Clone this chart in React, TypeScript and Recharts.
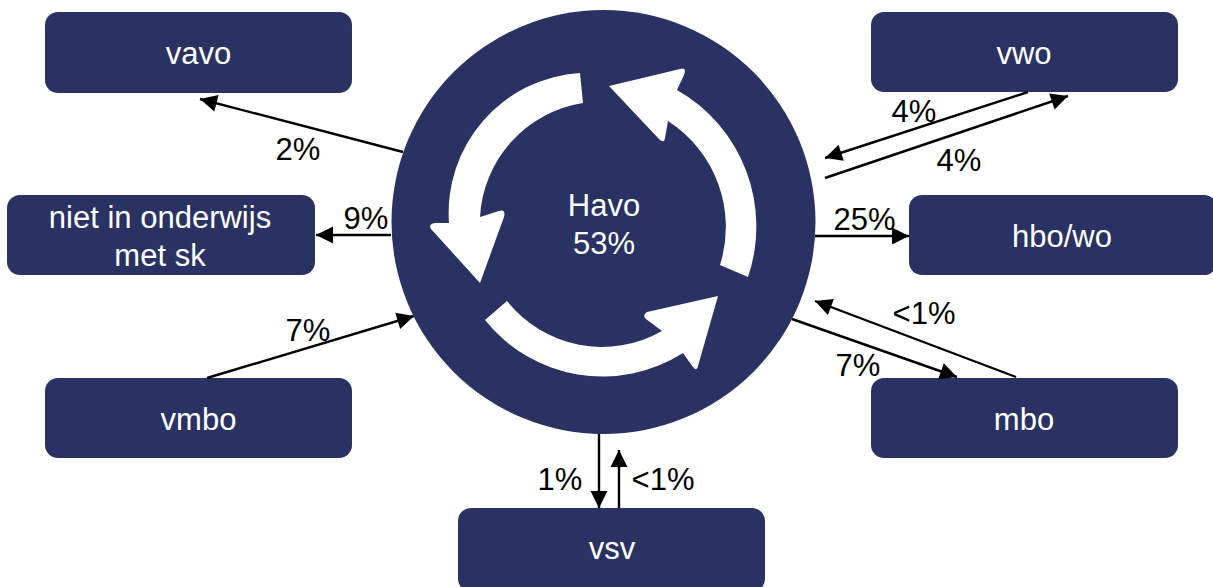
import { ScatterChart, Scatter, XAxis, YAxis, ReferenceArea } from "recharts";

const NAVY = "#293263";
const FONT = "'Liberation Sans', Arial, sans-serif";

// boxes around the roundabout, in picture coordinates
const boxes = [
  { name: "vavo", x1: 45, x2: 352, y1: 12, y2: 93 },
  { name: "vwo", x1: 871, x2: 1178, y1: 12, y2: 92 },
  { name: "niet in onderwijs met sk", x1: 7, x2: 315, y1: 195, y2: 275 },
  { name: "hbo/wo", x1: 909, x2: 1217, y1: 195, y2: 275 },
  { name: "vmbo", x1: 45, x2: 352, y1: 378, y2: 458 },
  { name: "mbo", x1: 871, x2: 1178, y1: 378, y2: 458 },
  { name: "vsv", x1: 458, x2: 765, y1: 508, y2: 592 },
];

const boxLabels = [
  { text: "vavo", x: 198.5, y: 63.5 },
  { text: "vwo", x: 1024, y: 64 },
  { text: "niet in onderwijs", x: 160, y: 228 },
  { text: "met sk", x: 160, y: 265.5 },
  { text: "hbo/wo", x: 1062, y: 246.5 },
  { text: "vmbo", x: 198.5, y: 429.5 },
  { text: "mbo", x: 1024, y: 429.5 },
  { text: "vsv", x: 612, y: 558.5 },
];

const hub = [{ x: 603.5, y: 222 }];

const hubLabels = [
  { text: "Havo", x: 604, y: 216 },
  { text: "53%", x: 604, y: 254 },
];

// from -> to, the arrowhead sits on the second point
const flows = [
  [{ x: 403, y: 152 }, { x: 200, y: 99 }],
  [{ x: 391, y: 235 }, { x: 316, y: 235 }],
  [{ x: 207, y: 378 }, { x: 414, y: 316 }],
  [{ x: 1028, y: 92 }, { x: 825, y: 158 }],
  [{ x: 825, y: 178 }, { x: 1068, y: 96 }],
  [{ x: 815, y: 236 }, { x: 909, y: 236 }],
  [{ x: 1016, y: 377 }, { x: 815, y: 301 }],
  [{ x: 792, y: 319 }, { x: 957, y: 377 }],
  [{ x: 599, y: 433 }, { x: 599, y: 508 }],
  [{ x: 619, y: 508 }, { x: 619, y: 450 }],
];

const flowLabels = [
  { text: "2%", x: 298, y: 159.5 },
  { text: "9%", x: 366, y: 228.5 },
  { text: "7%", x: 308, y: 340.5 },
  { text: "4%", x: 914, y: 122 },
  { text: "4%", x: 959, y: 171 },
  { text: "25%", x: 864.5, y: 229.5 },
  { text: "<1%", x: 924, y: 324 },
  { text: "7%", x: 858, y: 375.5 },
  { text: "1%", x: 560, y: 489.5 },
  { text: "<1%", x: 663, y: 489.5 },
];

// the three white arrows going round inside the hub
const cyclePaths = [
  "M580,73 A140,140 0 0 0 449,223 L435,223 Q428,224 431,229 L480,283 L504,217 Q506,209 499,211 L480,217 A122,122 0 0 1 583,103 Z",
  "M748,277 A157,157 0 0 0 677,90 L684,75 Q687,67 680,69 L609,86 L659,139 Q664,144 665,138 L668,121 A126,126 0 0 1 720,265 Z",
  "M485,320 A150,150 0 0 0 683,353 L693,367 Q697,372 698,366 L718,296 L647,312 Q642,315 646,319 L662,331 A121,121 0 0 1 507,301 Z",
];

const makeText = (fill: string) => (props: any) => (
  <text
    x={props.cx}
    y={props.cy}
    fill={fill}
    fontSize={31}
    fontFamily={FONT}
    textAnchor="middle"
  >
    {props.payload.text}
  </text>
);

const makeHead = (from: any, to: any) => (props: any) => {
  if (props.payload.x !== to.x || props.payload.y !== to.y) return <g />;
  const angle = (Math.atan2(to.y - from.y, to.x - from.x) * 180) / Math.PI;
  return (
    <polygon
      points="0,0 -17,-8.5 -17,8.5"
      fill="#000"
      transform={`translate(${props.cx} ${props.cy}) rotate(${angle})`}
    />
  );
};

export default function App() {
  return (
    <div style={{ position: "absolute", left: 0, top: 0, width: 1213, height: 587, overflow: "hidden" }}>
      <ScatterChart width={1213} height={587} margin={{ top: 0, right: 0, bottom: 0, left: 0 }}>
        <XAxis type="number" dataKey="x" domain={[0, 1213]} hide />
        <YAxis type="number" dataKey="y" domain={[0, 587]} reversed hide />

        {flows.map(([from, to], i) => (
          <Scatter
            key={i}
            data={[from, to]}
            line={{ stroke: "#000", strokeWidth: 2.4 }}
            shape={makeHead(from, to)}
            isAnimationActive={false}
          />
        ))}

        {boxes.map((b) => (
          <ReferenceArea
            key={b.name}
            x1={b.x1}
            x2={b.x2}
            y1={b.y1}
            y2={b.y2}
            radius={13}
            fill={NAVY}
            fillOpacity={1}
            stroke="none"
            ifOverflow="hidden"
          />
        ))}

        <Scatter
          data={hub}
          isAnimationActive={false}
          shape={(p: any) => (
            <g>
              <circle cx={p.cx} cy={p.cy} r={212} fill={NAVY} />
              <g transform={`translate(${p.cx - p.payload.x} ${p.cy - p.payload.y})`}>
                {cyclePaths.map((d) => (
                  <path key={d} d={d} fill="#fff" />
                ))}
              </g>
            </g>
          )}
        />

        <Scatter data={boxLabels} shape={makeText("#fff")} isAnimationActive={false} />
        <Scatter data={hubLabels} shape={makeText("#fff")} isAnimationActive={false} />
        <Scatter data={flowLabels} shape={makeText("#000")} isAnimationActive={false} />
      </ScatterChart>
    </div>
  );
}
